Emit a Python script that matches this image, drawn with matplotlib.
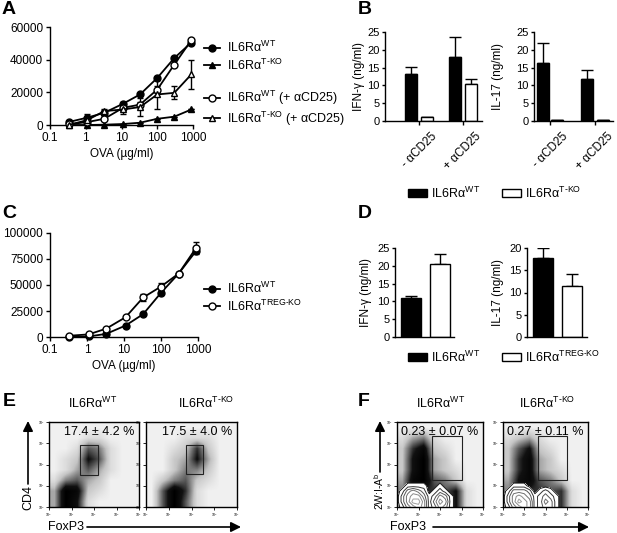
import numpy as np
import matplotlib
matplotlib.use('Agg')
import matplotlib.pyplot as plt
from matplotlib.lines import Line2D
from matplotlib.patches import Patch, Rectangle
from matplotlib.colors import LinearSegmentedColormap
from matplotlib.transforms import ScaledTranslation

W, H = 617, 533

# ---- data ----
ova = [0.33, 1.1, 3.3, 11, 33, 100, 300, 900]

# A: proliferation (cpm)
a_wt = [1800, 4500, 7500, 13000, 18700, 28800, 41000, 50500]
a_wt_err = [300, 2000, 1500, 800, 800, 500, 800, 800]
a_tko = [0, 0, 200, 600, 1400, 3800, 5100, 9500]
a_tko_err = [0, 0, 0, 0, 0, 0, 0, 0]
a_wt_acd25 = [400, 1800, 3800, 10500, 12500, 21700, 37000, 52000]
a_wt_acd25_err = [0, 1000, 1000, 1000, 1500, 2000, 1000, 800]
a_tko_acd25 = [0, 3000, 8500, 9500, 11000, 18700, 19700, 31000]
a_tko_acd25_err = [0, 2500, 1500, 2500, 5500, 9000, 4000, 8700]

# B: cytokines, groups = - aCD25 / + aCD25
b_groups = ['- \u03b1CD25', '+ \u03b1CD25']
b_ifng_wt = [13.2, 18.0]
b_ifng_wt_err = [1.9, 5.7]
b_ifng_tko = [1.0, 10.5]
b_ifng_tko_err = [0.2, 1.3]
b_il17_wt = [16.2, 11.7]
b_il17_wt_err = [5.8, 2.7]
b_il17_tko = [0.3, 0.3]
b_il17_tko_err = [0.1, 0.1]

# C: proliferation, Treg-KO
c_wt = [0, 500, 3000, 11000, 22000, 42500, 61000, 83000]
c_wt_err = [0, 0, 0, 500, 1000, 1500, 1000, 3500]
c_tregko = [1200, 2500, 8000, 19000, 38000, 48500, 61000, 86000]
c_tregko_err = [0, 0, 500, 1000, 3000, 3000, 1000, 5000]

# D: cytokines, WT vs Treg-KO
d_ifng = [11.0, 20.5]
d_ifng_err = [0.5, 2.7]
d_il17 = [17.7, 11.5]
d_il17_err = [2.2, 2.6]

# E/F: flow density (log decades 0-4, rows from top, half-decade cells)
e_wt_density = [
    [0, 0, 0, 0, 0, 0, 0, 0],
    [0, 0, 0, 1, 1, 0, 0, 0],
    [0, 0, 1, 5, 4, 1, 0, 0],
    [0, 1, 2, 7, 5, 1, 0, 0],
    [0, 1, 3, 5, 3, 1, 0, 0],
    [1, 4, 5, 3, 2, 0, 0, 0],
    [3, 9, 8, 2, 1, 0, 0, 0],
    [3, 9, 7, 1, 0, 0, 0, 0],
]
e_tko_density = [
    [0, 0, 0, 0, 0, 0, 0, 0],
    [0, 0, 0, 1, 1, 1, 0, 0],
    [0, 0, 1, 2, 6, 2, 0, 0],
    [0, 0, 2, 3, 7, 3, 0, 0],
    [0, 0, 2, 4, 4, 2, 0, 0],
    [0, 2, 4, 5, 2, 1, 0, 0],
    [0, 5, 9, 6, 1, 0, 0, 0],
    [0, 5, 9, 5, 1, 0, 0, 0],
]
f_wt_density = [
    [0, 0, 0, 0, 0, 0, 0, 0],
    [1, 3, 4, 1, 0, 0, 0, 0],
    [2, 6, 8, 2, 1, 0, 0, 0],
    [2, 7, 9, 3, 2, 0, 0, 0],
    [2, 7, 9, 3, 2, 1, 0, 0],
    [3, 8, 9, 5, 4, 2, 0, 0],
    [4, 6, 6, 6, 5, 7, 1, 0],
    [2, 4, 4, 5, 4, 7, 1, 0],
]
f_tko_density = [
    [0, 0, 0, 0, 0, 0, 0, 0],
    [1, 2, 3, 1, 0, 0, 0, 0],
    [2, 5, 7, 2, 1, 0, 0, 0],
    [2, 6, 8, 3, 2, 0, 0, 0],
    [2, 6, 8, 3, 2, 1, 0, 0],
    [3, 7, 8, 5, 4, 2, 0, 0],
    [4, 6, 6, 6, 5, 6, 1, 0],
    [2, 4, 4, 5, 4, 6, 1, 0],
]
contour_x = [0, 0.25, 0.5, 0.75, 1.0, 1.25, 1.5, 1.75, 2.0, 2.25, 2.5, 2.75, 3.0]
contour_y = [0, 0.25, 0.5, 0.75, 1.0, 1.25]
f_wt_contour = [
    [0, 1, 3, 4, 5, 4, 1, 2, 4, 3, 1, 0, 0],
    [0, 2, 4, 6, 6, 4, 1, 3, 5, 4, 1, 0, 0],
    [0, 2, 4, 5, 5, 3, 1, 2, 4, 3, 1, 0, 0],
    [0, 1, 3, 4, 3, 2, 0, 1, 2, 1, 0, 0, 0],
    [0, 0, 1, 1, 1, 1, 0, 0, 1, 0, 0, 0, 0],
    [0, 0, 0, 0, 0, 0, 0, 0, 0, 0, 0, 0, 0],
]
f_tko_contour = [
    [0, 1, 3, 4, 5, 4, 1, 2, 3, 3, 1, 0, 0],
    [0, 2, 4, 6, 5, 4, 1, 2, 4, 3, 1, 0, 0],
    [0, 2, 4, 5, 4, 3, 1, 2, 3, 2, 1, 0, 0],
    [0, 1, 3, 3, 3, 2, 0, 1, 2, 1, 0, 0, 0],
    [0, 0, 1, 1, 1, 0, 0, 0, 0, 0, 0, 0, 0],
    [0, 0, 0, 0, 0, 0, 0, 0, 0, 0, 0, 0, 0],
]
e_wt_gate = [1.38, 2.18, 1.5, 2.92]
e_tko_gate = [1.76, 2.5, 1.55, 2.92]
f_gate = [1.63, 3.02, 1.27, 3.34]
e_pct = ['17.4 \u00b1 4.2 %', '17.5 \u00b1 4.0 %']
f_pct = ['0.23 \u00b1 0.07 %', '0.27 \u00b1 0.11 %']

LBL_WT = r'IL6R' + '\u03b1' + r'$^{\mathrm{WT}}$'
LBL_TKO = r'IL6R' + '\u03b1' + r'$^{\mathrm{T\text{-}KO}}$'
LBL_TREG = r'IL6R' + '\u03b1' + r'$^{\mathrm{TREG\text{-}KO}}$'

plt.rcParams['font.family'] = ['Liberation Sans', 'DejaVu Sans']
plt.rcParams['mathtext.fontset'] = 'custom'
plt.rcParams['mathtext.rm'] = 'Liberation Sans'
plt.rcParams['mathtext.it'] = 'Liberation Sans:italic'
plt.rcParams['mathtext.bf'] = 'Liberation Sans:bold'
plt.rcParams['axes.linewidth'] = 1.0
plt.rcParams['xtick.major.width'] = 1.0
plt.rcParams['ytick.major.width'] = 1.0
plt.rcParams['xtick.major.size'] = 3
plt.rcParams['ytick.major.size'] = 3
plt.rcParams['xtick.labelsize'] = 8.5
plt.rcParams['ytick.labelsize'] = 8.5

fig = plt.figure(figsize=(W / 100, H / 100), dpi=100)


def rect(x0, y0, x1, y1):
    return [x0 / W, 1 - y1 / H, (x1 - x0) / W, (y1 - y0) / H]


def prism(ax):
    for s in ['top', 'right']:
        ax.spines[s].set_visible(False)
    ax.tick_params(direction='out', pad=2)


def curve(ax, y, yerr, marker, filled):
    fc = 'black' if filled else 'white'
    ax.errorbar(ova, y, yerr=yerr, color='black', marker=marker, ms=5,
                mfc=fc, mec='black', mew=1, lw=1.3, capsize=2.5,
                elinewidth=1, clip_on=False, zorder=3)


def prolif_axes(box, ymax, yticks):
    ax = fig.add_axes(rect(*box))
    prism(ax)
    ax.set_xscale('log')
    ax.set_xlim(0.1, 1000)
    ax.set_ylim(0, ymax)
    ax.set_xticks([0.1, 1, 10, 100, 1000])
    ax.set_xticklabels(['0.1', '1', '10', '100', '1000'])
    ax.minorticks_off()
    ax.set_yticks(yticks)
    ax.set_xlabel('OVA (\u00b5g/ml)', fontsize=8.5, labelpad=3)
    return ax


def bar_axes(box, xmax, centers, vals, errs, colors, ymax, yticks,
             ylabel, label_x, width, ticks=None, ticklabels=None):
    ax = fig.add_axes(rect(*box))
    prism(ax)
    ax.tick_params(axis='y', labelsize=8, length=2.5, pad=1.5)
    for c, v, e, col in zip(centers, vals, errs, colors):
        ax.bar(c, v, width=width, color=col, edgecolor='black', lw=1,
               zorder=2)
        ax.errorbar(c, v, yerr=[[0], [e]], color='black', capsize=4,
                    elinewidth=1, capthick=1, zorder=1)
    ax.set_xlim(0, xmax)
    ax.set_ylim(0, ymax)
    ax.set_yticks(yticks)
    ax.set_ylabel(ylabel, fontsize=8.5)
    # right edge of the rotated label, in figure pixels
    ax.yaxis.set_label_coords(label_x / W, 1 - (box[1] + box[3]) / 2 / H,
                              transform=fig.transFigure)
    if ticks is None:
        ax.set_xticks([])
    else:
        ax.set_xticks(ticks)
        ax.set_xticklabels(ticklabels, rotation=45, ha='right', va='top',
                           rotation_mode='anchor', fontsize=8.5)
        for lab in ax.get_xticklabels():
            lab.set_transform(lab.get_transform()
                              + ScaledTranslation(0.12, -0.02,
                                                  fig.dpi_scale_trans))
    return ax


# ---- A ----
axA = prolif_axes((50, 27, 193, 125), 60000, [0, 20000, 40000, 60000])
curve(axA, a_wt, a_wt_err, 'o', True)
curve(axA, a_tko, a_tko_err, '^', True)
curve(axA, a_wt_acd25, a_wt_acd25_err, 'o', False)
curve(axA, a_tko_acd25, a_tko_acd25_err, '^', False)

hA = [
    Line2D([], [], color='k', marker='o', mfc='k', ms=5, lw=1.3),
    Line2D([], [], color='k', marker='^', mfc='k', ms=5, lw=1.3),
    Line2D([], [], color='none'),
    Line2D([], [], color='k', marker='o', mfc='w', ms=5, lw=1.3),
    Line2D([], [], color='k', marker='^', mfc='w', ms=5, lw=1.3),
]
lA = [LBL_WT, LBL_TKO, ' ', LBL_WT + ' (+ \u03b1CD25)',
      LBL_TKO + ' (+ \u03b1CD25)']
fig.legend(hA, lA, loc='upper left', bbox_to_anchor=(204 / W, 1 - 40 / H),
           frameon=False, fontsize=9, handlelength=1.3, handletextpad=0.5,
           labelspacing=0.18, borderpad=0, borderaxespad=0)

# ---- B ----
bar_axes((385, 32, 482, 121), 97, [26, 42, 69.5, 85.5],
         [b_ifng_wt[0], b_ifng_tko[0], b_ifng_wt[1], b_ifng_tko[1]],
         [b_ifng_wt_err[0], b_ifng_tko_err[0], b_ifng_wt_err[1],
          b_ifng_tko_err[1]],
         ['black', 'white', 'black', 'white'], 25, [0, 5, 10, 15, 20, 25],
         'IFN-\u03b3 (ng/ml)', 365, 12, [34, 78], b_groups)
bar_axes((534, 32, 613, 121), 79, [8.5, 23, 52.5, 69],
         [b_il17_wt[0], b_il17_tko[0], b_il17_wt[1], b_il17_tko[1]],
         [b_il17_wt_err[0], b_il17_tko_err[0], b_il17_wt_err[1],
          b_il17_tko_err[1]],
         ['black', 'white', 'black', 'white'], 25, [0, 5, 10, 15, 20, 25],
         'IL-17 (ng/ml)', 504, 12, [16, 61], b_groups)

hB = [Patch(facecolor='black', edgecolor='black'),
      Patch(facecolor='white', edgecolor='black')]
fig.legend(hB, [LBL_WT, LBL_TKO], loc='center left', ncol=2,
           bbox_to_anchor=(408 / W, 1 - 193 / H), frameon=False, fontsize=9,
           handlelength=1.5, handleheight=0.6, handletextpad=0.3,
           columnspacing=1.8, borderpad=0, borderaxespad=0)

# ---- C ----
axC = prolif_axes((50, 233, 198, 337), 100000,
                  [0, 25000, 50000, 75000, 100000])
curve(axC, c_wt, c_wt_err, 'o', True)
curve(axC, c_tregko, c_tregko_err, 'o', False)
hC = [Line2D([], [], color='k', marker='o', mfc='k', ms=5, lw=1.3),
      Line2D([], [], color='k', marker='o', mfc='w', ms=5, lw=1.3)]
fig.legend(hC, [LBL_WT, LBL_TREG], loc='upper left',
           bbox_to_anchor=(204 / W, 1 - 281 / H), frameon=False, fontsize=9,
           handlelength=1.3, handletextpad=0.5, labelspacing=0.18,
           borderpad=0, borderaxespad=0)

# ---- D ----
bar_axes((395, 248, 454, 337), 59, [15.5, 44.5], d_ifng, d_ifng_err,
         ['black', 'white'], 25, [0, 5, 10, 15, 20, 25], 'IFN-\u03b3 (ng/ml)',
         372, 20)
bar_axes((527, 248, 587, 337), 60, [16, 45], d_il17, d_il17_err,
         ['black', 'white'], 20, [0, 5, 10, 15, 20], 'IL-17 (ng/ml)', 504,
         20)
fig.legend(hB, [LBL_WT, LBL_TREG], loc='center left', ncol=2,
           bbox_to_anchor=(408 / W, 1 - 357 / H), frameon=False, fontsize=9,
           handlelength=1.5, handleheight=0.6, handletextpad=0.3,
           columnspacing=1.8, borderpad=0, borderaxespad=0)

# ---- E / F flow plots ----
flow_cmap = LinearSegmentedColormap.from_list(
    'flow', ['#f0f0f0', '#c4c4c4', '#6a6a6a', '#111111', '#000000'])


def flow_panel(box, grid, gate, pct, contour=None):
    ax = fig.add_axes(rect(*box))
    ax.imshow(np.array(grid, dtype=float), extent=(0, 4, 0, 4),
              origin='upper', cmap=flow_cmap, vmin=0, vmax=9,
              interpolation='bilinear', aspect='auto')
    if contour is not None:
        z = np.array(contour, dtype=float)
        ax.contourf(contour_x, contour_y, z, levels=[0.5, 10],
                    colors='white', zorder=2)
        ax.contour(contour_x, contour_y, z,
                   levels=[0.5, 1.5, 2.5, 3.5, 4.5, 5.5],
                   colors=['#111111', '#333333', '#555555', '#707070',
                           '#8a8a8a', '#a0a0a0'], linewidths=0.7, zorder=3)
    x0, x1, y0, y1 = gate
    ax.add_patch(Rectangle((x0, y0), x1 - x0, y1 - y0, fill=False,
                           ec='#222222', lw=0.8, zorder=4))
    ax.text(0.95, 0.95, pct, transform=ax.transAxes, ha='right', va='top',
            fontsize=9, zorder=5)
    ax.set_xlim(0, 4)
    ax.set_ylim(0, 4)
    ticks = [0, 1, 2, 3, 4]
    labs = [r'$10^{%d}$' % t for t in ticks]
    ax.set_xticks(ticks)
    ax.set_xticklabels(labs, fontsize=2.5)
    ax.set_yticks(ticks)
    ax.set_yticklabels(labs, fontsize=2.5)
    ax.tick_params(length=2, width=0.6, pad=1)
    for s in ax.spines.values():
        s.set_linewidth(1.0)
    return ax


flow_panel((49, 422, 139, 507), e_wt_density, e_wt_gate, e_pct[0])
flow_panel((146, 422, 237, 507), e_tko_density, e_tko_gate, e_pct[1])
flow_panel((397, 422, 483, 507), f_wt_density, f_gate, f_pct[0], f_wt_contour)
flow_panel((503, 422, 588, 507), f_tko_density, f_gate, f_pct[1], f_tko_contour)

# ---- overlay: panel letters, titles, arrows ----
ov = fig.add_axes([0, 0, 1, 1])
ov.set_xlim(0, W)
ov.set_ylim(H, 0)
ov.axis('off')
ov.patch.set_alpha(0)

for letter, (x, y) in zip('ABCDEF', [(2, 9), (358, 9), (2, 214), (358, 214),
                                     (3, 402), (358, 402)]):
    ov.text(x, y, letter, fontsize=14, fontweight='bold', va='center',
            ha='left')

for txt, x in [(LBL_WT, 93), (LBL_TKO, 206), (LBL_WT, 441), (LBL_TKO, 547)]:
    ov.text(x, 403, txt, fontsize=9, ha='center', va='center')

arrow = dict(arrowstyle='-|>,head_length=0.6,head_width=0.3', color='black',
             lw=1.2, shrinkA=0, shrinkB=0)
# E axes
ov.text(28, 497, 'CD4', rotation=90, fontsize=9, ha='center', va='center')
ov.annotate('', xy=(28, 421), xytext=(28, 484), arrowprops=arrow)
ov.text(48, 527, 'FoxP3', fontsize=9, ha='left', va='center')
ov.annotate('', xy=(241, 527), xytext=(87, 527), arrowprops=arrow)
# F axes
ov.text(379, 491, r'2W:I-A$^{\mathrm{b}}$', rotation=90, fontsize=7.5,
        ha='center', va='center')
ov.annotate('', xy=(380, 421), xytext=(380, 472), arrowprops=arrow)
ov.text(390, 527, 'FoxP3', fontsize=9, ha='left', va='center')
ov.annotate('', xy=(589, 527), xytext=(433, 527), arrowprops=arrow)

fig.savefig('out.png', dpi=100)
